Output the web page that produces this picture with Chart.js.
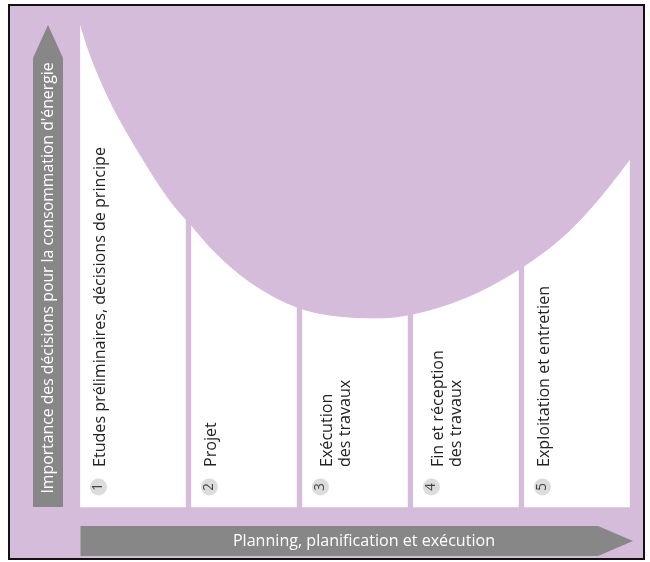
<!DOCTYPE html>
<html>
<head>
<meta charset="utf-8">
<script src="https://cdn.jsdelivr.net/npm/chart.js@4.4.1/dist/chart.umd.min.js"></script>
<style>
  html, body { margin: 0; padding: 0; background: #fff; }
  #wrap { width: 650px; height: 562px; }
</style>
</head>
<body>
<div id="wrap"><canvas id="chart"></canvas></div>
<script>
// Phases of the building process (one white column each)
const phaseNumbers = ['1', '2', '3', '4', '5'];
const phaseLabels = [
  ['Etudes préliminaires, décisions de principe'],
  ['Projet'],
  ['Exécution', 'des travaux'],
  ['Fin et réception', 'des travaux'],
  ['Exploitation et entretien'],
];
const phaseCenters = [0.5, 1.5, 2.5, 3.5, 4.5];

// Importance of decisions along the planning timeline (0-100)
const curveX = [0.02, 0.10, 0.29, 0.54, 0.83, 1.04, 1.22, 1.53, 1.98, 2.43, 2.73, 3.02, 3.51, 3.97, 4.41, 4.71, 5.02];
const curveY = [100, 94.2, 83.9, 73.6, 63.3, 57.7, 53.0, 46.8, 41.2, 39.2, 39.0, 39.8, 43.3, 48.9, 56.5, 63.9, 73.0];

const yAxisTitle = "Importance des décisions pour la consommation d'énergie";
const xAxisTitle = 'Planning, planification et exécution';

const X_MIN = -0.608, X_MAX = 5.095;
const Y_MIN = -10.72, Y_MAX = 103.3;

const PURPLE = '#d5bcdb';
const GREY = '#878787';
const FONT = '"Open Sans", "Liberation Sans", sans-serif';

let condense = 1;
const setCondense = (ctx) => {
  ctx.font = `17px ${FONT}`;
  condense = 320 / ctx.measureText(phaseLabels[0][0]).width;
};

const drawText = (ctx, text, x, y, angle, size, color, align, baseline) => {
  ctx.save();
  ctx.translate(x, y);
  ctx.rotate(angle);
  ctx.scale(condense, 1);
  ctx.font = `${size}px ${FONT}`;
  ctx.fillStyle = color;
  ctx.textAlign = align;
  ctx.textBaseline = baseline;
  ctx.fillText(text, 0, 0);
  ctx.restore();
};

const background = {
  id: 'background',
  beforeDraw(chart) {
    const { ctx, chartArea: a } = chart;
    ctx.save();
    ctx.fillStyle = '#fff';
    ctx.fillRect(0, 0, chart.width, chart.height);
    ctx.fillStyle = PURPLE;
    ctx.fillRect(a.left, a.top, a.right - a.left, a.bottom - a.top);
    ctx.restore();
  }
};

const decorations = {
  id: 'decorations',
  afterDatasetsDraw(chart) {
    const { ctx, chartArea: a, scales: { x, y } } = chart;
    setCondense(ctx);
    const base = y.getPixelForValue(0);
    const top = y.getPixelForValue(100);

    // vertical arrow
    ctx.save();
    ctx.fillStyle = GREY;
    ctx.beginPath();
    ctx.moveTo(33, base);
    ctx.lineTo(33, top + 36);
    ctx.lineTo(48, top + 3);
    ctx.lineTo(63, top + 36);
    ctx.lineTo(63, base);
    ctx.closePath();
    ctx.fill();

    // horizontal arrow
    const x0 = x.getPixelForValue(0) + 3;
    ctx.beginPath();
    ctx.moveTo(x0, base + 19);
    ctx.lineTo(598, base + 19);
    ctx.lineTo(633, base + 34);
    ctx.lineTo(598, base + 49);
    ctx.lineTo(x0, base + 49);
    ctx.closePath();
    ctx.fill();
    ctx.restore();

    drawText(ctx, yAxisTitle, 48, 278, -Math.PI / 2, 16.7, '#fff', 'center', 'middle');
    drawText(ctx, xAxisTitle, 364, base + 34, 0, 17, '#fff', 'center', 'middle');

    // column labels
    phaseCenters.forEach((c, i) => {
      const left = x.getPixelForValue(c) - 52.5;
      const cx = left + 18;
      const cy = base - 20;
      ctx.save();
      ctx.fillStyle = '#dcdcdc';
      ctx.beginPath();
      ctx.arc(cx, cy, 8.5, 0, Math.PI * 2);
      ctx.fill();
      ctx.restore();
      drawText(ctx, phaseNumbers[i], cx, cy, -Math.PI / 2, 14, '#444', 'center', 'middle');
      const lines = phaseLabels[i];
      const offsets = lines.length === 1 ? [7] : [12, 30];
      lines.forEach((line, j) => {
        drawText(ctx, line, cx + offsets[j], cy - 20, -Math.PI / 2, 17, '#222', 'left', 'alphabetic');
      });
    });

    // frame
    ctx.save();
    ctx.strokeStyle = '#111';
    ctx.lineWidth = 2;
    ctx.strokeRect(a.left - 1, a.top - 1, a.right - a.left + 2, a.bottom - a.top + 1);
    ctx.restore();
  }
};

const ctx = document.getElementById('chart');
new Chart(ctx, {
  type: 'bar',
  data: {
    datasets: [
      {
        type: 'line',
        data: curveX.map((v, i) => ({ x: v, y: curveY[i] })),
        borderColor: PURPLE,
        borderWidth: 1,
        backgroundColor: PURPLE,
        fill: 'end',
        pointRadius: 0,
        cubicInterpolationMode: 'monotone',
        order: 0,
      },
      {
        type: 'bar',
        data: phaseCenters.map(c => ({ x: c, y: [0, Y_MAX] })),
        backgroundColor: '#fff',
        borderWidth: 0,
        barThickness: 105,
        order: 1,
      },
    ],
  },
  options: {
    responsive: true,
    maintainAspectRatio: false,
    animation: false,
    layout: { padding: { left: 10, top: 6, right: 7, bottom: 3 } },
    plugins: {
      legend: { display: false },
      tooltip: { enabled: false },
    },
    scales: {
      x: { type: 'linear', min: X_MIN, max: X_MAX, offset: false, display: false },
      y: { min: Y_MIN, max: Y_MAX, display: false },
    },
  },
  plugins: [background, decorations],
});
</script>
</body>
</html>
